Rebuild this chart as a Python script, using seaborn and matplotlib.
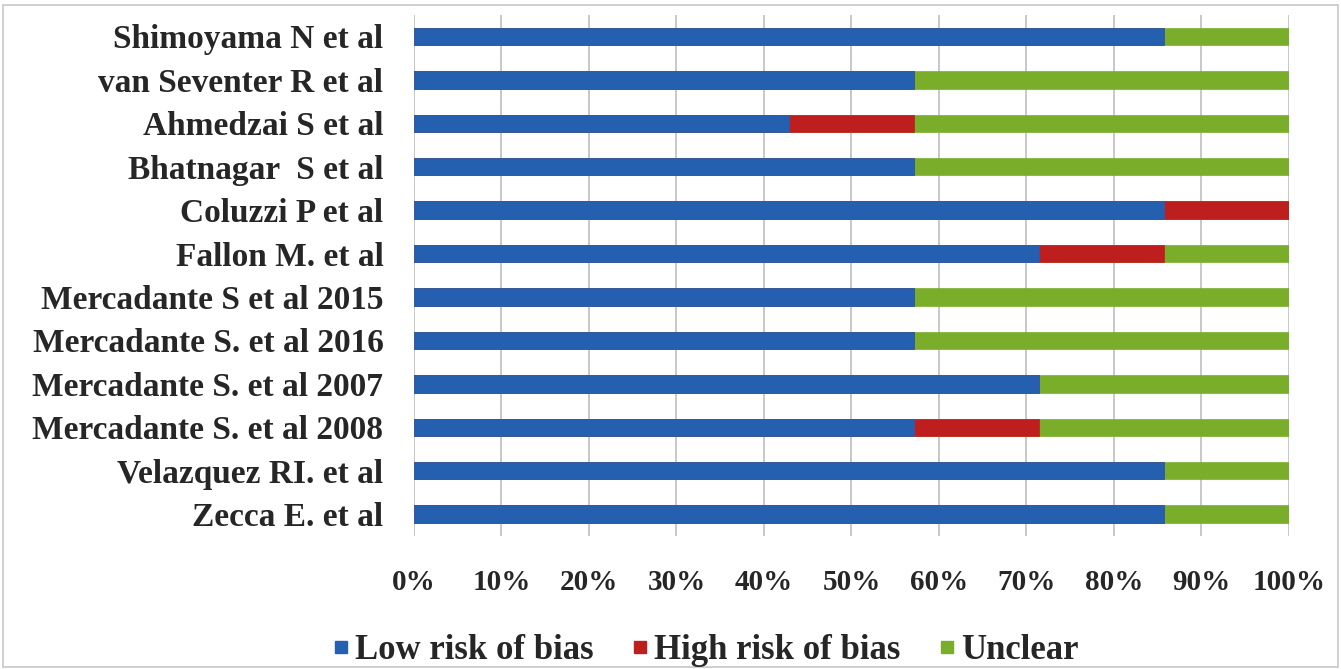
import numpy as np
import pandas as pd
import seaborn as sns
import matplotlib.pyplot as plt
from matplotlib.lines import Line2D
from matplotlib.ticker import PercentFormatter

studies = ['Shimoyama N et al', 'van Seventer R et al', 'Ahmedzai S et al',
           'Bhatnagar  S et al', 'Coluzzi P et al', 'Fallon M. et al',
           'Mercadante S et al 2015', 'Mercadante S. et al 2016',
           'Mercadante S. et al 2007', 'Mercadante S. et al 2008',
           'Velazquez RI. et al', 'Zecca E. et al']
# share of 7 domains, in %
low = [85.7, 57.1, 42.9, 57.1, 85.7, 71.4, 57.1, 57.1, 71.4, 57.1, 85.7, 85.7]
high = [0, 0, 14.3, 0, 14.3, 14.3, 0, 0, 0, 14.3, 0, 0]
unclear = [14.3, 42.9, 42.9, 42.9, 0, 14.3, 42.9, 42.9, 28.6, 28.6, 14.3, 14.3]

col_low, col_high, col_unc = '#2560B0', '#BE1E1E', '#7AAE2A'

df = pd.DataFrame({'study': studies, 'low': low, 'high': high, 'unclear': unclear})
df['low_high'] = df['low'] + df['high']
df['total'] = df['low_high'] + df['unclear']

sns.set_style('white')
plt.rcParams['font.family'] = ['Liberation Serif', 'DejaVu Serif']
plt.rcParams['font.weight'] = 'bold'

fig = plt.figure(figsize=(13.41, 6.69), dpi=100)
ax = fig.add_axes([0.3087, 0.199, 0.6525, 0.779])

for col, c in [('total', col_unc), ('low_high', col_high), ('low', col_low)]:
    sns.barplot(data=df, x=col, y='study', orient='h', color=c, width=0.4,
                saturation=1, edgecolor=c, linewidth=0.5, ax=ax)

ax.set_xlim(0, 100)
ax.set_xticks(np.arange(0, 101, 10))
ax.xaxis.set_major_formatter(PercentFormatter(decimals=0))
ax.grid(axis='x', color='#bfbfbf', linewidth=1.2)
ax.set_axisbelow(True)
for s in ax.spines.values():
    s.set_visible(False)
ax.set_xlabel('')
ax.set_ylabel('')
ax.tick_params(axis='x', length=0, pad=24, labelsize=21)
ax.tick_params(axis='y', length=0, pad=22, labelsize=24)
for t in ax.get_xticklabels() + ax.get_yticklabels():
    t.set_fontweight('bold')

handles = [Line2D([], [], marker='s', linestyle='', color=c, markersize=9)
           for c in (col_low, col_high, col_unc)]
fig.legend(handles, ['Low risk of bias', 'High risk of bias', 'Unclear'],
           loc='center', bbox_to_anchor=(0.526, 0.028), ncol=3, frameon=False,
           prop={'size': 25, 'weight': 'bold'}, handlelength=0.5,
           handletextpad=0.15, columnspacing=1.1)

fig.patches.append(plt.Rectangle((0.002, 0.003), 0.996, 0.99, transform=fig.transFigure,
                                 fill=False, edgecolor='#c8c8c8', linewidth=1.2))
fig.savefig('out.png', dpi=100)
